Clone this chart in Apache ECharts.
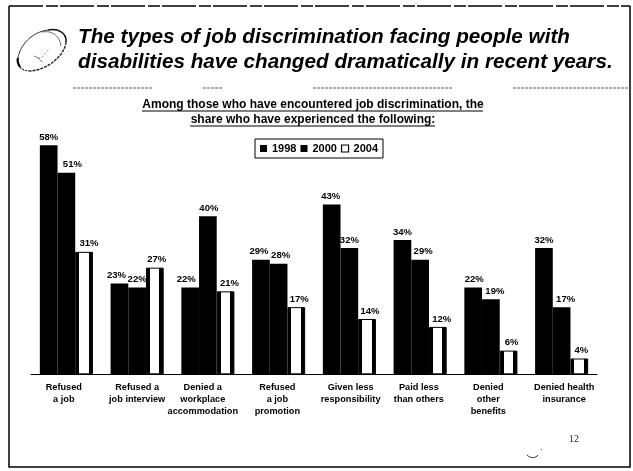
<!DOCTYPE html>
<html>
<head>
<meta charset="utf-8">
<style>html,body{margin:0;padding:0;background:#fff}#c{width:633px;height:471px}</style>
<script src="https://cdn.jsdelivr.net/npm/echarts@6/dist/echarts.min.js"></script>
</head>
<body>
<div id="c"></div>
<script>
const categories = ['Refused\na job', 'Refused a\njob interview', 'Denied a\nworkplace\naccommodation', 'Refused\na job\npromotion', 'Given less\nresponsibility', 'Paid less\nthan others', 'Denied\nother\nbenefits', 'Denied health\ninsurance'];
const values1998 = [58, 23, 22, 29, 43, 34, 22, 32];
const values2000 = [51, 22, 40, 28, 32, 29, 19, 17];
const values2004 = [31, 27, 21, 17, 14, 12, 6, 4];
const seriesNames = ['1998', '2000', '2004'];

// Horizontal nudges for the value labels, so neighbouring percentages do not collide
const nudge1998 = [0, -3, -4, -2, -1, 0, 1, 0];
const nudge2000 = [6, 0, 1, 2, 0, 3, 4, 4];
const nudge2004 = [5, 2, 4, 3, 3, 4, 3, 2];
// Sideways shift of each category caption, in no-break spaces (negative = left)
const captionShift = [-2, 0, -4, -1, 1, -1, -2, 2];

const labelFont = { fontFamily: 'Liberation Sans', fontWeight: 'bold', fontSize: 9.5, color: '#000' };

// The 2004 bars are white with heavy black sides
const hollowFill = new echarts.graphic.LinearGradient(0, 0, 1, 0, [
  { offset: 0, color: '#000' }, { offset: 0.22, color: '#000' },
  { offset: 0.22, color: '#fff' }, { offset: 0.76, color: '#fff' },
  { offset: 0.76, color: '#000' }, { offset: 1, color: '#000' }
]);

function barData(values, nudges) {
  return values.map((v, i) => ({ value: v, label: { offset: [nudges[i], 0] } }));
}
function barSeries(name, values, nudges, itemStyle) {
  return {
    name, type: 'bar', barGap: 0, barCategoryGap: '25%',
    data: barData(values, nudges), itemStyle,
    label: { show: true, position: 'top', distance: 3, formatter: '{c}%', ...labelFont }
  };
}
function curve(x1, y1, cx1, cy1, cx2, cy2, x2, y2, stroke, lineWidth, lineDash) {
  return { type: 'bezierCurve', shape: { x1, y1, x2, y2, cpx1: cx1, cpy1: cy1, cpx2: cx2, cpy2: cy2 },
    style: { fill: 'none', stroke, lineWidth, lineDash } };
}
function shiftCaption(text, index) {
  const n = captionShift[index];
  const pad = '\u00a0'.repeat(Math.abs(n));
  return text.split('\n').map(line => n < 0 ? line + pad : pad + line).join('\n');
}

const chart = echarts.init(document.getElementById('c'), null, { renderer: 'canvas' });
chart.setOption({
  animation: false,
  backgroundColor: '#fff',
  title: [
    { text: 'The types of job discrimination facing people with\ndisabilities have changed dramatically in recent years.',
      left: 73, top: 19.5,
      textStyle: { fontFamily: 'Liberation Sans', fontStyle: 'italic', fontWeight: 'bold', fontSize: 20.7, lineHeight: 25.5, color: '#000' } },
    { text: 'Among those who have encountered job discrimination, the\nshare who have experienced the following:',
      left: 308, top: 92.5, textAlign: 'center',
      textStyle: { fontFamily: 'Liberation Sans', fontWeight: 'bold', fontSize: 12, lineHeight: 15, color: '#000' } }
  ],
  legend: {
    left: 255, top: 139,
    data: [
      { name: seriesNames[0], itemStyle: { color: '#000' } },
      { name: seriesNames[1], itemStyle: { color: '#000' } },
      { name: seriesNames[2], itemStyle: { color: '#fff', borderColor: '#000', borderWidth: 1.2 } }
    ],
    orient: 'horizontal',
    itemWidth: 7, itemHeight: 7, itemGap: 4,
    padding: [4, 5, 4, 5],
    borderColor: '#000', borderWidth: 1,
    icon: 'rect',
    textStyle: { fontFamily: 'Liberation Sans', fontWeight: 'bold', fontSize: 11, color: '#000' }
  },
  grid: { left: 31, right: 36, top: 137.3, bottom: 96.7 },
  xAxis: {
    type: 'category', data: categories,
    axisTick: { show: false },
    axisLine: { lineStyle: { color: '#000', width: 1 } },
    axisLabel: { interval: 0, margin: 7, fontFamily: 'Liberation Sans', fontWeight: 'bold', fontSize: 9.2, lineHeight: 12, color: '#000',
      formatter: shiftCaption }
  },
  yAxis: { type: 'value', min: 0, max: 60, show: false, splitLine: { show: false } },
  series: [
    barSeries(seriesNames[0], values1998, nudge1998, { color: '#000' }),
    barSeries(seriesNames[1], values2000, nudge2000, { color: '#000' }),
    barSeries(seriesNames[2], values2004, nudge2004, { color: hollowFill, borderColor: '#000', borderWidth: 1 })
  ],
  graphic: [
    // slide frame: solid sides and bottom, broken top edge
    { type: 'polyline', shape: { points: [[9, 6], [9, 467], [630, 467], [630, 6]] }, style: { fill: 'none', stroke: '#000', lineWidth: 1.5 } },
    { type: 'line', shape: { x1: 9, y1: 6, x2: 630, y2: 6 }, style: { stroke: '#000', lineWidth: 1.5, lineDash: [34, 3, 12, 2] } },
    // broken rule under the headline
    ...[[73, 153], [203, 223], [313, 453], [513, 630]].map(([a, b]) => ({
      type: 'line', shape: { x1: a, y1: 88, x2: b, y2: 88 }, style: { stroke: '#555', lineWidth: 1, lineDash: [3, 1] }
    })),
    // underlines of the two-line subtitle
    { type: 'line', shape: { x1: 142, y1: 111, x2: 483, y2: 111 }, style: { stroke: '#000', lineWidth: 1 } },
    { type: 'line', shape: { x1: 190, y1: 126, x2: 435, y2: 126 }, style: { stroke: '#000', lineWidth: 1 } },
    // swirl emblem beside the headline
    curve(18, 58, 20, 45, 32, 32, 48, 30, '#333', 1),
    curve(48, 30, 58, 28, 67, 33, 66, 42, '#111', 1.5),
    curve(66, 42, 65, 55, 48, 70, 30, 71, '#222', 1.4, [3, 1]),
    curve(30, 71, 25, 71, 21, 69, 20, 67, '#222', 1.2, [2, 1]),
    curve(18, 58, 17, 61, 18, 64, 20, 67, '#000', 2.2),
    curve(42, 32, 52, 30, 60, 36, 61, 46, '#444', 0.8),
    curve(38, 57, 40, 60, 43, 56, 50, 48, '#555', 0.7, [2, 2]),
    curve(34, 56, 37, 57, 40, 59, 42, 62, '#444', 0.7),
    // page number and small scribble
    { type: 'text', style: { x: 569, y: 434, text: '12', fill: '#222', font: '10px "Liberation Serif"' } },
    curve(527, 455, 531, 459, 536, 458, 538, 455, '#333', 1),
    { type: 'line', shape: { x1: 541, y1: 450, x2: 542, y2: 449 }, style: { stroke: '#555', lineWidth: 1 } }
  ]
});
</script>
</body>
</html>
